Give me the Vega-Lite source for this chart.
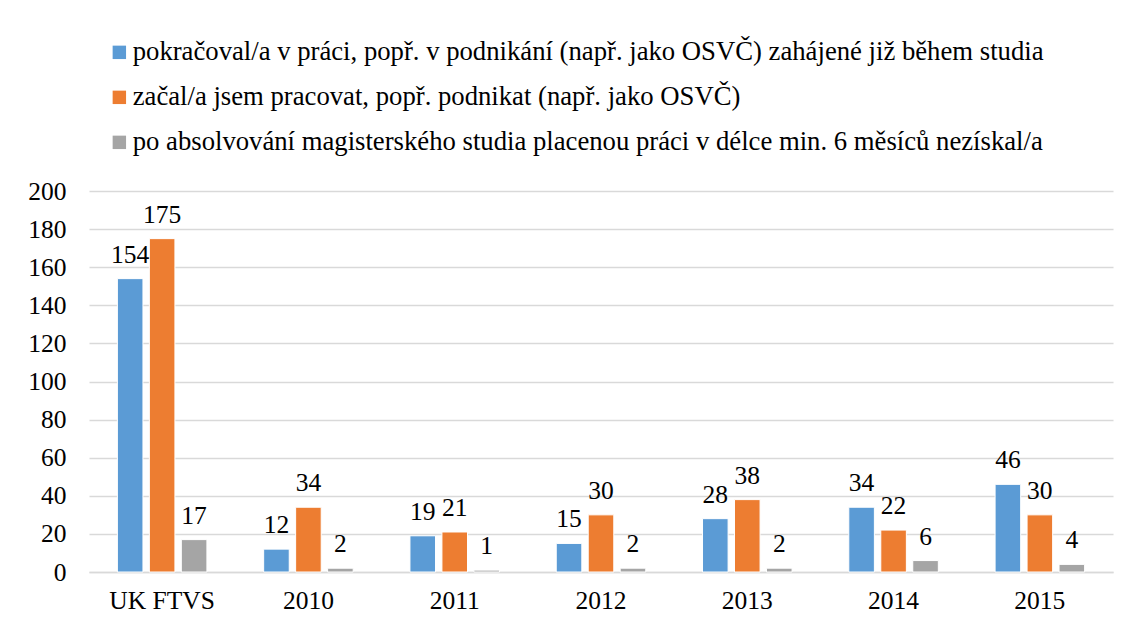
{
  "$schema": "https://vega.github.io/schema/vega-lite/v6.json",
  "width": 1024,
  "height": 381,
  "autosize": "none",
  "padding": {"left": 89, "top": 191, "right": 19, "bottom": 56},
  "background": "white",
  "config": {
    "font": "Liberation Serif",
    "view": {"stroke": null},
    "axis": {"labelFont": "Liberation Serif"},
    "legend": {"labelFont": "Liberation Serif"},
    "text": {"font": "Liberation Serif"}
  },
  "data": {
    "values": [
      {"kat": "UK FTVS", "s": "pokračoval/a v práci, popř. v podnikání (např. jako OSVČ) zahájené již během studia", "v": 154},
      {"kat": "UK FTVS", "s": "začal/a jsem pracovat, popř. podnikat (např. jako OSVČ)", "v": 175},
      {"kat": "UK FTVS", "s": "po absolvování magisterského studia placenou práci v délce min. 6 měsíců nezískal/a", "v": 17},
      {"kat": "2010", "s": "pokračoval/a v práci, popř. v podnikání (např. jako OSVČ) zahájené již během studia", "v": 12},
      {"kat": "2010", "s": "začal/a jsem pracovat, popř. podnikat (např. jako OSVČ)", "v": 34},
      {"kat": "2010", "s": "po absolvování magisterského studia placenou práci v délce min. 6 měsíců nezískal/a", "v": 2},
      {"kat": "2011", "s": "pokračoval/a v práci, popř. v podnikání (např. jako OSVČ) zahájené již během studia", "v": 19},
      {"kat": "2011", "s": "začal/a jsem pracovat, popř. podnikat (např. jako OSVČ)", "v": 21},
      {"kat": "2011", "s": "po absolvování magisterského studia placenou práci v délce min. 6 měsíců nezískal/a", "v": 1},
      {"kat": "2012", "s": "pokračoval/a v práci, popř. v podnikání (např. jako OSVČ) zahájené již během studia", "v": 15},
      {"kat": "2012", "s": "začal/a jsem pracovat, popř. podnikat (např. jako OSVČ)", "v": 30},
      {"kat": "2012", "s": "po absolvování magisterského studia placenou práci v délce min. 6 měsíců nezískal/a", "v": 2},
      {"kat": "2013", "s": "pokračoval/a v práci, popř. v podnikání (např. jako OSVČ) zahájené již během studia", "v": 28},
      {"kat": "2013", "s": "začal/a jsem pracovat, popř. podnikat (např. jako OSVČ)", "v": 38},
      {"kat": "2013", "s": "po absolvování magisterského studia placenou práci v délce min. 6 měsíců nezískal/a", "v": 2},
      {"kat": "2014", "s": "pokračoval/a v práci, popř. v podnikání (např. jako OSVČ) zahájené již během studia", "v": 34},
      {"kat": "2014", "s": "začal/a jsem pracovat, popř. podnikat (např. jako OSVČ)", "v": 22},
      {"kat": "2014", "s": "po absolvování magisterského studia placenou práci v délce min. 6 měsíců nezískal/a", "v": 6},
      {"kat": "2015", "s": "pokračoval/a v práci, popř. v podnikání (např. jako OSVČ) zahájené již během studia", "v": 46},
      {"kat": "2015", "s": "začal/a jsem pracovat, popř. podnikat (např. jako OSVČ)", "v": 30},
      {"kat": "2015", "s": "po absolvování magisterského studia placenou práci v délce min. 6 měsíců nezískal/a", "v": 4}
    ]
  },
  "encoding": {
    "x": {
      "field": "kat", "type": "nominal", "sort": null,
      "scale": {"paddingInner": 0.388, "paddingOuter": 0.194},
      "axis": {
        "title": null, "labelAngle": 0, "labelFontSize": 25.5, "labelColor": "black",
        "labelFont": "Liberation Serif",
        "ticks": false, "domainColor": "#d9d9d9", "domainWidth": 1.5, "labelPadding": 16
      }
    },
    "xOffset": {
      "field": "s", "type": "nominal", "sort": null,
      "scale": {"paddingInner": 0.2, "paddingOuter": 0}
    },
    "y": {
      "field": "v", "type": "quantitative",
      "scale": {"domain": [0, 200], "nice": false},
      "axis": {
        "title": null, "values": [0,20,40,60,80,100,120,140,160,180,200],
        "labelFontSize": 25.5, "labelColor": "black", "labelPadding": 23,
        "labelFont": "Liberation Serif",
        "ticks": false, "domain": false, "gridColor": "#d9d9d9", "gridWidth": 1.5
      }
    }
  },
  "layer": [
    {
      "mark": {"type": "bar", "stroke": "white", "strokeWidth": 1},
      "encoding": {
        "color": {
          "field": "s", "type": "nominal", "sort": null,
          "scale": {
            "domain": [
              "pokračoval/a v práci, popř. v podnikání (např. jako OSVČ) zahájené již během studia",
              "začal/a jsem pracovat, popř. podnikat (např. jako OSVČ)",
              "po absolvování magisterského studia placenou práci v délce min. 6 měsíců nezískal/a"
            ],
            "range": ["#5B9BD5", "#ED7D31", "#A5A5A5"]
          },
          "legend": {
            "title": null, "orient": "none", "legendX": 17, "legendY": -152,
            "direction": "vertical", "symbolType": "square", "symbolSize": 180,
            "symbolStrokeWidth": 0, "labelFontSize": 26.7, "labelColor": "black",
            "labelFont": "Liberation Serif",
            "labelLimit": 1100, "rowPadding": 17, "labelOffset": 0
          }
        }
      }
    },
    {
      "mark": {"type": "text", "fontSize": 25.5, "font": "Liberation Serif", "color": "black", "baseline": "alphabetic", "dy": -16},
      "encoding": {"text": {"field": "v", "type": "quantitative"}}
    }
  ]
}
